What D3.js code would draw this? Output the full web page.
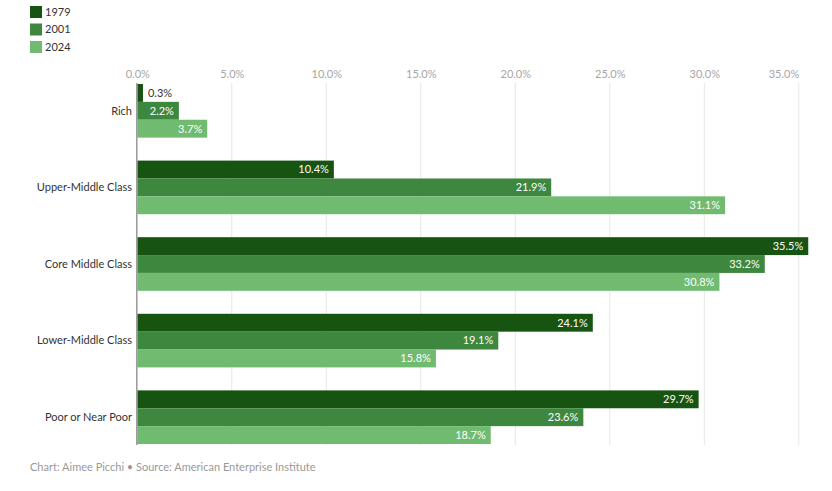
<!DOCTYPE html>
<html>
<head>
<meta charset="utf-8">
<script src="https://cdn.jsdelivr.net/npm/d3@7"></script>
<style>
  body { margin: 0; background: #fff; font-family: Lato, "Open Sans", sans-serif; }
  svg text { font-family: Lato, "Open Sans", sans-serif; }
</style>
</head>
<body>
<svg id="chart"></svg>
<script>
// data
const categories = ['Rich', 'Upper-Middle Class', 'Core Middle Class', 'Lower-Middle Class', 'Poor or Near Poor'];
const years = ['1979', '2001', '2024'];
const values1979 = [0.3, 10.4, 35.5, 24.1, 29.7];
const values2001 = [2.2, 21.9, 33.2, 19.1, 23.6];
const values2024 = [3.7, 31.1, 30.8, 15.8, 18.7];
const tickValues = [0, 5, 10, 15, 20, 25, 30, 35];
const colors = ['#175311', '#3e873e', '#70bb6f'];

const series = [values1979, values2001, values2024];
const rows = categories.map((c, i) => ({
  category: c,
  values: years.map((y, j) => ({year: y, value: series[j][i]}))
}));

const width = 832, height = 491;
const svg = d3.select('#chart')
    .attr('width', width)
    .attr('height', height);

// Scales
const xScale = d3.scaleLinear()
    .domain([0, 35])
    .range([137.3, 798.8]);

const yScale = d3.scaleBand()
    .domain(categories)
    .range([84, 444])
    .paddingInner(0.3)
    .paddingOuter(0);

const subScale = d3.scaleBand()
    .domain(years)
    .range([0, yScale.bandwidth()]);

const color = d3.scaleOrdinal().domain(years).range(colors);

// Gridlines
svg.append('g')
  .selectAll('line')
    .data(tickValues.slice(1))
  .join('line')
    .attr('x1', d => xScale(d))
    .attr('x2', d => xScale(d))
    .attr('y1', 83)
    .attr('y2', 445)
    .attr('stroke', '#e6e6e6')
    .attr('stroke-width', 1);

// Top axis
const xAxis = d3.axisTop(xScale)
    .tickValues(tickValues)
    .tickFormat(d => d.toFixed(1) + '%')
    .tickSize(0)
    .tickPadding(0);

const xAxisG = svg.append('g')
    .attr('transform', 'translate(0,78)')
    .call(xAxis);
xAxisG.select('.domain').remove();
xAxisG.selectAll('text')
    .attr('fill', '#a6a6a6')
    .attr('font-size', 11);
// last label sits flush against its gridline
xAxisG.selectAll('.tick').filter(d => d === d3.max(tickValues))
  .select('text')
    .attr('text-anchor', 'end');

// Bars
const groups = svg.append('g')
  .selectAll('g')
    .data(rows)
  .join('g')
    .attr('transform', d => `translate(0,${yScale(d.category)})`);

groups.selectAll('rect')
    .data(d => d.values)
  .join('rect')
    .attr('x', xScale(0))
    .attr('y', d => subScale(d.year))
    .attr('width', d => xScale(d.value) - xScale(0))
    .attr('height', subScale.bandwidth())
    .attr('fill', d => color(d.year));

groups.selectAll('text.val')
    .data(d => d.values)
  .join('text')
    .attr('class', 'val')
    .attr('y', d => subScale(d.year) + subScale.bandwidth() / 2)
    .attr('dy', '0.35em')
    .attr('font-size', 11)
    .each(function(d) {
      const w = xScale(d.value) - xScale(0);
      const inside = w > 30;
      d3.select(this)
        .attr('x', inside ? xScale(d.value) - 5 : xScale(d.value) + 5)
        .attr('text-anchor', inside ? 'end' : 'start')
        .attr('fill', inside ? '#fff' : '#333');
    })
    .text(d => d.value.toFixed(1) + '%');

// Category labels
svg.append('g')
  .selectAll('text')
    .data(categories)
  .join('text')
    .attr('x', 132)
    .attr('y', d => yScale(d) + yScale.bandwidth() / 2)
    .attr('dy', '0.35em')
    .attr('text-anchor', 'end')
    .attr('font-size', 11)
    .attr('fill', '#333')
    .text(d => d);

// Left axis line
svg.append('line')
    .attr('x1', xScale(0) - 0.5)
    .attr('x2', xScale(0) - 0.5)
    .attr('y1', 83)
    .attr('y2', 445)
    .attr('stroke', '#999')
    .attr('stroke-width', 1.5);

// Legend
const legend = svg.append('g')
  .selectAll('g')
    .data(years)
  .join('g')
    .attr('transform', (d, i) => `translate(30,${6 + i * 17.5})`);

legend.append('rect')
    .attr('width', 12)
    .attr('height', 12)
    .attr('fill', d => color(d));

legend.append('text')
    .attr('x', 15)
    .attr('y', 6)
    .attr('dy', '0.35em')
    .attr('font-size', 11)
    .attr('fill', '#333')
    .text(d => d);

// Footer
svg.append('text')
    .attr('x', 30)
    .attr('y', 471)
    .attr('font-size', 11)
    .attr('fill', '#999')
    .text('Chart: Aimee Picchi \u2022 Source: American Enterprise Institute');
</script>
</body>
</html>
